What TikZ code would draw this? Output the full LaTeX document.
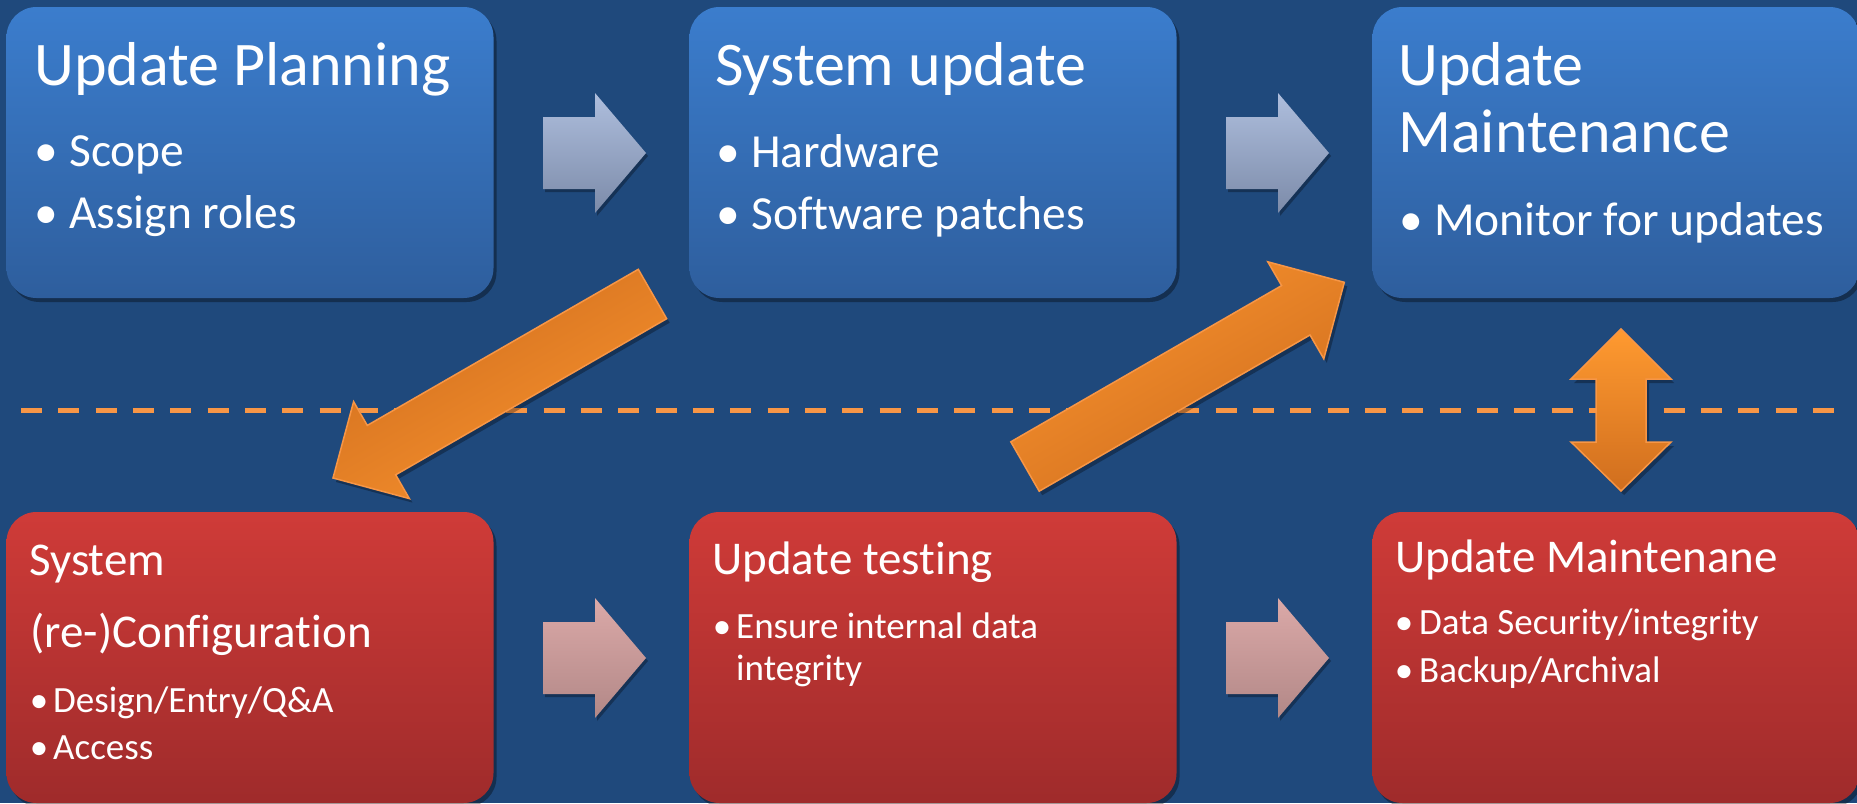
\documentclass[tikz,border=0pt]{standalone}
\usepackage{fontspec}
\setmainfont{Carlito}[Ligatures=NoCommon]
\usetikzlibrary{shadows}

\definecolor{bg}{HTML}{1F497C}
\definecolor{blueTop}{HTML}{3B7DCD}
\definecolor{blueBot}{HTML}{2E5E9D}
\definecolor{redTop}{HTML}{CF3B38}
\definecolor{redBot}{HTML}{9F2B2B}
\definecolor{accent}{HTML}{F79646}
\definecolor{orLight}{HTML}{F8922E}
\definecolor{orBright}{HTML}{FF9A30}
\definecolor{orDark}{HTML}{D06E1E}
\definecolor{grayTop}{HTML}{AEBEDD}
\definecolor{grayBot}{HTML}{7C8BA9}
\definecolor{pinkTop}{HTML}{DBA9A8}
\definecolor{pinkBot}{HTML}{B28887}

\tikzset{
  softshadow/.style={drop shadow={shadow xshift=3pt, shadow yshift=-4pt, opacity=.35, fill=black}},
  stagebox/.style={rectangle, rounded corners=30pt, minimum width=487pt,
    minimum height=291pt, inner sep=0pt, draw=none, softshadow},
  upperbox/.style={stagebox, top color=blueTop, bottom color=blueBot},
  lowerbox/.style={stagebox, top color=redTop, bottom color=redBot},
  txt/.style={anchor=base west, inner sep=0pt, text=white},
  dot/.style={anchor=base, inner sep=0pt, text=white},
  bigtitle/.style={txt, font=\fontsize{62}{74}\selectfont},
  bigitem/.style={txt, font=\fontsize{47.5}{57}\selectfont},
  bigdot/.style={dot, font=\fontsize{47.5}{57}\selectfont},
  smalltitle/.style={txt, font=\fontsize{47}{56}\selectfont},
  smallitem/.style={txt, font=\fontsize{37}{44}\selectfont},
  smalldot/.style={dot, font=\fontsize{37}{44}\selectfont},
  grayarrow/.style={top color=grayTop, bottom color=grayBot, draw=none,
    drop shadow={shadow xshift=2pt, shadow yshift=-3pt, opacity=.3, fill=black}},
  pinkarrow/.style={top color=pinkTop, bottom color=pinkBot, draw=none,
    drop shadow={shadow xshift=2pt, shadow yshift=-3pt, opacity=.3, fill=black}},
  orangearrow/.style={draw=accent, line width=1.5pt, line join=miter,
    drop shadow={shadow xshift=3pt, shadow yshift=-4pt, opacity=.3, fill=black}},
  divider/.style={draw=accent, line width=5pt, dash pattern=on 21pt off 16.33pt}
}

\begin{document}
\begin{tikzpicture}[x=1pt, y=-1pt]
  \useasboundingbox (0,0) rectangle (1857,803);
  \clip (0,0) rectangle (1857,803);
  \fill[bg] (0,0) rectangle (1857,803);

  % dashed divider between the two rows
  \coordinate (divL) at (21,410);
  \coordinate (divR) at (1834,410);
  \draw[divider] (divL) -- (divR);

  % upper row of stages
  \node[upperbox] (plan) at (250,152.5) {};
  \node[upperbox] (sysupd) at (933,152.5) {};
  \node[upperbox] (maint) at (1616,152.5) {};

  % lower row of stages
  \node[lowerbox] (config) at (250,657.5) {};
  \node[lowerbox] (testing) at (933,657.5) {};
  \node[lowerbox] (maintlow) at (1616,657.5) {};

  % texts of the upper row
  \node[bigtitle] (plan-t) at (34,85) {Update Planning};
  \node[bigdot] (plan-d1) at (46,166) {•};
  \node[bigitem] (plan-i1) at (69,166) {Scope};
  \node[bigdot] (plan-d2) at (46,228) {•};
  \node[bigitem] (plan-i2) at (69,228) {Assign roles};

  \node[bigtitle] (sysupd-t) at (715,85) {System update};
  \node[bigdot] (sysupd-d1) at (728,167) {•};
  \node[bigitem] (sysupd-i1) at (751,167) {Hardware};
  \node[bigdot] (sysupd-d2) at (728,229) {•};
  \node[bigitem] (sysupd-i2) at (751,229) {Software patches};

  \node[bigtitle] (maint-t1) at (1398,85) {Update};
  \node[bigtitle] (maint-t2) at (1398,152) {Maintenance};
  \node[bigdot] (maint-d1) at (1411,235) {•};
  \node[bigitem] (maint-i1) at (1434,235) {Monitor for updates};

  % texts of the lower row
  \node[smalltitle] (config-t1) at (29,575) {System};
  \node[smalltitle] (config-t2) at (30,647) {(re-)Configuration};
  \node[smalldot] (config-d1) at (39,712) {•};
  \node[smallitem] (config-i1) at (53,712) {Design/Entry/Q\&A};
  \node[smalldot] (config-d2) at (39,759) {•};
  \node[smallitem] (config-i2) at (53,759) {Access};

  \node[smalltitle] (testing-t) at (712,574) {Update testing};
  \node[smalldot] (testing-d1) at (722,638) {•};
  \node[smallitem] (testing-i1) at (736,638) {Ensure internal data};
  \node[smallitem] (testing-i2) at (736,680) {integrity};

  \node[smalltitle] (maintlow-t) at (1395,572) {Update Maintenane};
  \node[smalldot] (maintlow-d1) at (1404,634) {•};
  \node[smallitem] (maintlow-i1) at (1419,634) {Data Security/integrity};
  \node[smalldot] (maintlow-d2) at (1404,682) {•};
  \node[smallitem] (maintlow-i2) at (1419,682) {Backup/Archival};

  % block arrows between neighbouring stages
  \path[grayarrow] (543,117) -- (595,117) -- (595,93) -- (646,153)
    -- (595,213) -- (595,189) -- (543,189) -- cycle;
  \path[grayarrow] (1226,117) -- (1278,117) -- (1278,93) -- (1329,153)
    -- (1278,213) -- (1278,189) -- (1226,189) -- cycle;
  \path[pinkarrow] (543,622) -- (595,622) -- (595,598) -- (646,658)
    -- (595,718) -- (595,694) -- (543,694) -- cycle;
  \path[pinkarrow] (1226,622) -- (1278,622) -- (1278,598) -- (1329,658)
    -- (1278,718) -- (1278,694) -- (1226,694) -- cycle;

  % orange arrows crossing the divider
  \path[orangearrow, top color=orLight, bottom color=orDark, shading angle=-150]
    (638.3,269.3) -- (367.3,425.4) -- (353.6,401.6) -- (333,478)
    -- (409.4,498.6) -- (395.7,474.8) -- (666.7,318.7) -- cycle;
  \path[orangearrow, top color=orLight, bottom color=orDark, shading angle=30]
    (1010.8,441.8) -- (1281.6,285.6) -- (1267.8,261.8) -- (1344.3,282.3)
    -- (1323.8,358.8) -- (1310.0,335.0) -- (1039.2,491.2) -- cycle;
  \path[orangearrow, top color=orBright, bottom color=orDark]
    (1621,329) -- (1671,379) -- (1646,379) -- (1646,442) -- (1671,442)
    -- (1621,491) -- (1571,442) -- (1596,442) -- (1596,379) -- (1571,379) -- cycle;
\end{tikzpicture}
\end{document}
